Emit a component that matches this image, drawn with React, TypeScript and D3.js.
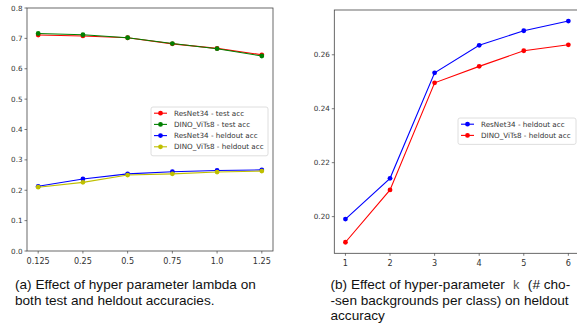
import React from "react";
import * as d3 from "d3";

const lambdaLabels = ["0.125", "0.25", "0.5", "0.75", "1.0", "1.25"];
const resnetTest = [0.711, 0.708, 0.702, 0.682, 0.667, 0.646];
const dinoTest = [0.716, 0.712, 0.702, 0.683, 0.666, 0.642];
const resnetHeld = [0.213, 0.237, 0.254, 0.261, 0.265, 0.267];
const dinoHeld = [0.210, 0.226, 0.250, 0.254, 0.260, 0.263];
const leftYTicks = [0.0, 0.1, 0.2, 0.3, 0.4, 0.5, 0.6, 0.7, 0.8];

const kValues = [1, 2, 3, 4, 5, 6];
const resnetK = [0.1991, 0.2142, 0.2533, 0.2635, 0.2689, 0.2725];
const dinoK = [0.1905, 0.2099, 0.2496, 0.2557, 0.2615, 0.2637];
const rightYTicks = [0.2, 0.22, 0.24, 0.26];

const leftSeries = [
  { name: "ResNet34 - test acc", values: resnetTest, color: "#ff0000" },
  { name: "DINO_ViTs8 - test acc", values: dinoTest, color: "#008000" },
  { name: "ResNet34 - heldout acc", values: resnetHeld, color: "#0000ff" },
  { name: "DINO_ViTs8 - heldout acc", values: dinoHeld, color: "#bfbf00" },
];
const rightSeries = [
  { name: "ResNet34 - heldout acc", values: resnetK, color: "#0000ff" },
  { name: "DINO_ViTs8 - heldout acc", values: dinoK, color: "#ff0000" },
];

const FONT = "DejaVu Sans";
const SPINE = "#444";
const TXT = "#333";

export default function App() {
  // left panel
  const lx = d3.scaleLinear().domain([-0.25, 5.25]).range([27, 273]);
  const ly = d3.scaleLinear().domain([0, 0.8]).range([251, 8]);
  const lineL = d3
    .line<number>()
    .x((_, i) => lx(i))
    .y((v) => ly(v));

  // right panel
  const rx = d3.scaleLinear().domain([0.75, 6.25]).range([334.3, 579.5]);
  const ry = d3.scaleLinear().domain([0.1864, 0.2766]).range([253.3, 10]);
  const lineR = d3
    .line<number>()
    .x((_, i) => rx(kValues[i]))
    .y((v) => ry(v));

  const legend = (
    x0: number,
    y0: number,
    w: number,
    items: { name: string; color: string }[]
  ) => {
    const step = 11.2;
    const h = items.length * step + 4;
    return (
      <g>
        <rect
          x={x0}
          y={y0}
          width={w}
          height={h}
          fill="white"
          fillOpacity={0.8}
          stroke="#d6d6d6"
          strokeWidth={0.8}
          rx={2}
        />
        {items.map((s, i) => {
          const cy = y0 + 6.2 + i * step;
          return (
            <g key={s.name}>
              <line
                x1={x0 + 3}
                x2={x0 + 16}
                y1={cy}
                y2={cy}
                stroke={s.color}
                strokeWidth={1.1}
              />
              <circle cx={x0 + 9.5} cy={cy} r={2.4} fill={s.color} />
              <text
                x={x0 + 23}
                y={cy + 2.6}
                fontSize={7.2}
                fontFamily={FONT}
                fill={TXT}
              >
                {s.name}
              </text>
            </g>
          );
        })}
      </g>
    );
  };

  return (
    <svg
      width={577}
      height={325}
      style={{ position: "absolute", left: 0, top: 0, background: "white" }}
    >
      <rect width={577} height={325} fill="white" />
      {/* Left panel */}
      <g>
        {leftSeries.map((s) => (
          <g key={s.name}>
            <path d={lineL(s.values) || ""} fill="none" stroke={s.color} strokeWidth={1.1} />
            {s.values.map((v, i) => (
              <circle key={i} cx={lx(i)} cy={ly(v)} r={2.4} fill={s.color} />
            ))}
          </g>
        ))}
        <rect x={27} y={8} width={246} height={243} fill="none" stroke={SPINE} strokeWidth={0.8} />
        {leftYTicks.map((t) => (
          <g key={t}>
            <line x1={27} x2={24.5} y1={ly(t)} y2={ly(t)} stroke={SPINE} strokeWidth={0.7} />
            <text
              x={22.5}
              y={ly(t) + 2.6}
              textAnchor="end"
              fontSize={7.2}
              fontFamily={FONT}
              fill={TXT}
            >
              {t.toFixed(1)}
            </text>
          </g>
        ))}
        {lambdaLabels.map((l, i) => (
          <g key={l}>
            <line x1={lx(i)} x2={lx(i)} y1={251} y2={253.5} stroke={SPINE} strokeWidth={0.7} />
            <text
              x={lx(i)}
              y={263.5}
              textAnchor="middle"
              fontSize={8.1}
              fontFamily={FONT}
              fill={TXT}
            >
              {l}
            </text>
          </g>
        ))}
        {legend(151, 107, 117, leftSeries)}
      </g>

      {/* Right panel */}
      <g>
        {rightSeries.map((s) => (
          <g key={s.name}>
            <path d={lineR(s.values) || ""} fill="none" stroke={s.color} strokeWidth={1.1} />
            {s.values.map((v, i) => (
              <circle key={i} cx={rx(kValues[i])} cy={ry(v)} r={2.4} fill={s.color} />
            ))}
          </g>
        ))}
        <rect x={334.3} y={10} width={245.2} height={243.3} fill="none" stroke={SPINE} strokeWidth={0.8} />
        {rightYTicks.map((t) => (
          <g key={t}>
            <line x1={334.3} x2={331.8} y1={ry(t)} y2={ry(t)} stroke={SPINE} strokeWidth={0.7} />
            <text
              x={329.8}
              y={ry(t) + 2.6}
              textAnchor="end"
              fontSize={7.2}
              fontFamily={FONT}
              fill={TXT}
            >
              {t.toFixed(2)}
            </text>
          </g>
        ))}
        {kValues.map((k) => (
          <g key={k}>
            <line x1={rx(k)} x2={rx(k)} y1={253.3} y2={255.8} stroke={SPINE} strokeWidth={0.7} />
            <text
              x={rx(k)}
              y={265.5}
              textAnchor="middle"
              fontSize={8.1}
              fontFamily={FONT}
              fill={TXT}
            >
              {k}
            </text>
          </g>
        ))}
        {legend(458, 118, 118, rightSeries)}
      </g>

      {/* Captions */}
      <g fontFamily="Liberation Sans" fontSize={13.6} fill="#111">
        <text x={15} y={289}>(a) Effect of hyper parameter lambda on</text>
        <text x={15} y={304.5}>both test and heldout accuracies.</text>
        <text x={330.5} y={289}>
          (b) Effect of hyper-parameter{" "}
          <tspan fontFamily="Liberation Mono" fontSize={12.5} fill="#555" dx={4}>k</tspan>
          <tspan dx={4}>{" "}(# cho-</tspan>
        </text>
        <text x={330.5} y={304.5}>-sen backgrounds per class) on heldout</text>
        <text x={330.5} y={320}>accuracy</text>
      </g>
    </svg>
  );
}
